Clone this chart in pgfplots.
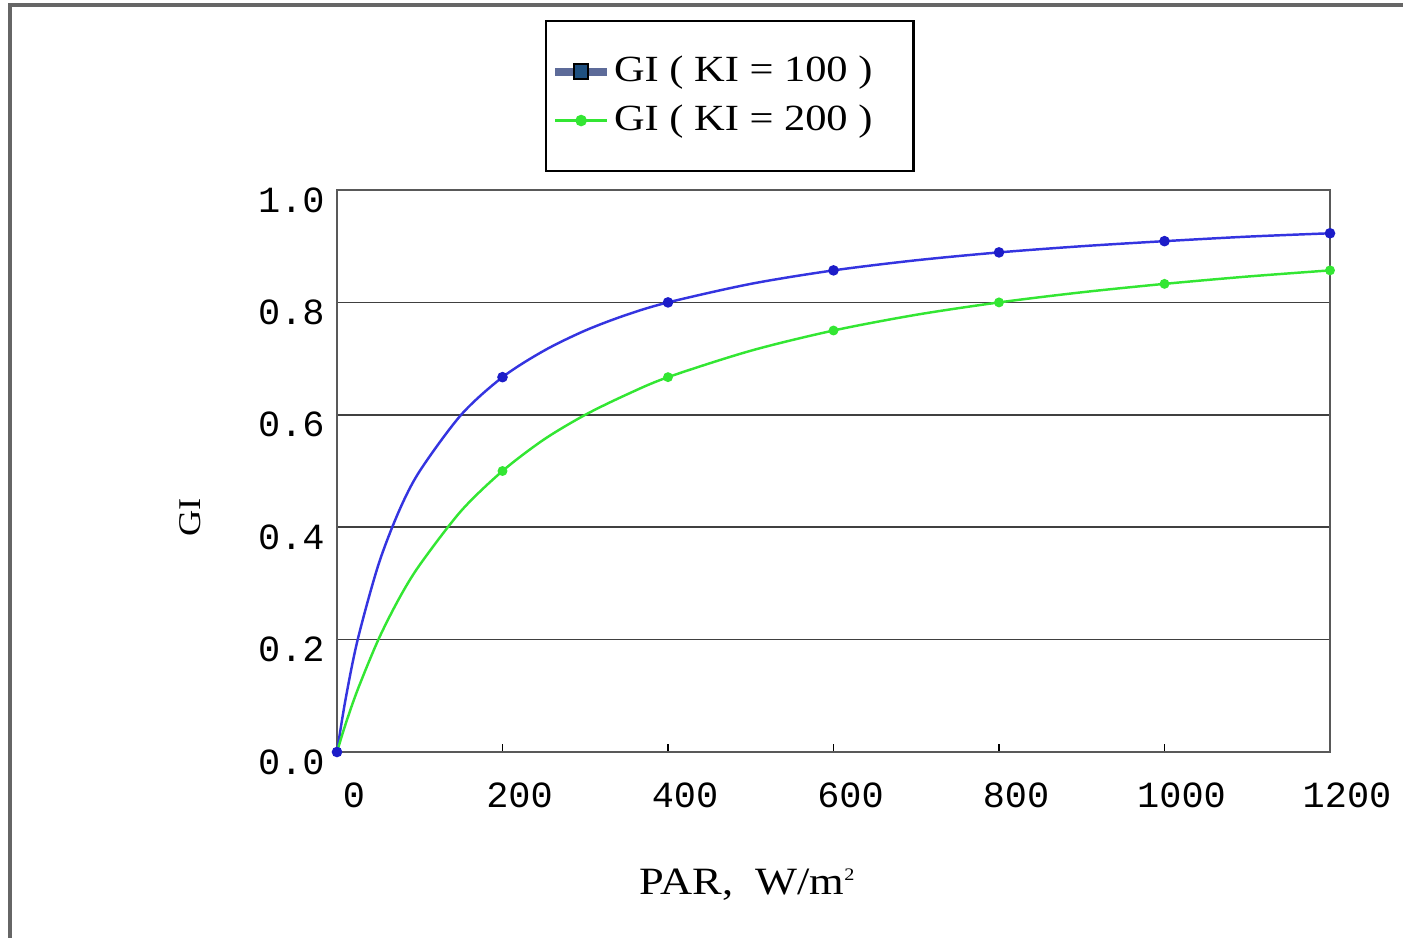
\documentclass[border=0pt]{standalone}
\usepackage{fontspec}
\setmainfont{Liberation Serif}[FakeStretch=1.15]
\setmonofont{Liberation Mono}
\usepackage{pgfplots}
\pgfplotsset{compat=1.18}
\definecolor{kiblue}{HTML}{3434E0}
\definecolor{kiblueM}{HTML}{1C1CC8}
\definecolor{kigreen}{HTML}{33E633}
\definecolor{legblue}{HTML}{5D6B99}
\definecolor{legsq}{HTML}{1F5080}

\begin{document}
\begin{tikzpicture}
\begin{axis}[
  name=ax, at={(0,0)}, anchor=south west,
  scale only axis, width=99.3mm, height=56.2mm,
  xmin=0, xmax=1200, ymin=0, ymax=1,
  xtick={0,200,400,600,800,1000,1200},
  ytick={0,0.2,0.4,0.6,0.8,1.0},
  xtick pos=bottom, ytick pos=left,
  major tick length=0.8mm,
  x tick style={black, line width=0.5pt},
  y tick style={draw=none},
  ymajorgrids=true,
  grid style={color=black!75, line width=0.45pt},
  axis line style={color=black!65, line width=0.8pt},
  ticklabel style={font=\ttfamily\fontsize{10.5}{12}\selectfont},
  /pgf/number format/assume math mode=true,
  /pgf/number format/1000 sep={},
  yticklabel style={/pgf/number format/fixed, /pgf/number format/zerofill,
    /pgf/number format/precision=1, yshift=-1mm},
  xticklabel style={xshift=1.7mm, yshift=-1.8mm},
  xlabel={PAR,\ \ W/m\textsuperscript{\tiny 2}},
  xlabel style={at={(axis description cs:0.414,0)}, anchor=center, yshift=-13.3mm,
    font=\fontsize{11}{13}\selectfont},
  ylabel={GI},
  ylabel style={at={(axis description cs:-0.148,0.418)}, anchor=center,
    font=\fontsize{9}{11}\selectfont},
  clip=false,
  legend style={at={(rel axis cs:0.2095,1.3025)}, anchor=north west,
    draw=black, line width=0.7pt, inner xsep=0.5mm, inner ysep=2.6mm,
    font=\fontsize{10.5}{12}\selectfont,
    nodes={inner xsep=0.3mm, inner ysep=0.9mm}},
  legend cell align=left,
]
\addplot[color=kiblue, line width=0.7pt, smooth,
  legend image code/.code={
    \draw[color=legblue, line width=2.2pt] (0mm,0mm) -- (5.2mm,0mm);
    \draw[fill=legsq, draw=black, line width=0.5pt] (1.9mm,-0.75mm) rectangle (3.3mm,0.75mm);
  }] coordinates {
  (0,0) (10,0.091) (25,0.200) (50,0.333) (75,0.429) (100,0.500) (150,0.600)
  (200,0.667) (250,0.714) (300,0.750) (350,0.778) (400,0.800) (500,0.833)
  (600,0.857) (700,0.875) (800,0.889) (900,0.900) (1000,0.909) (1100,0.917) (1200,0.923)};
\addlegendentry{GI ( KI = 100 )\hspace*{3.3mm}}
\addplot[color=kigreen, line width=0.7pt, smooth,
  legend image code/.code={
    \draw[color=kigreen, line width=1pt] (0mm,0mm) -- (5.2mm,0mm);
    \fill[kigreen] (2.6mm,0mm) circle (0.45mm);
  }] coordinates {
  (0,0) (10,0.048) (25,0.111) (50,0.200) (75,0.273) (100,0.333) (150,0.429)
  (200,0.500) (250,0.556) (300,0.600) (350,0.636) (400,0.667) (500,0.714)
  (600,0.750) (700,0.778) (800,0.800) (900,0.818) (1000,0.833) (1100,0.846) (1200,0.857)};
\addlegendentry{GI ( KI = 200 )\hspace*{3.3mm}}
% marks at the computed points
\addplot[only marks, mark=*, mark size=1.3pt, color=kiblueM, forget plot] coordinates {
  (0,0) (200,0.667) (400,0.800) (600,0.857) (800,0.889) (1000,0.909) (1200,0.923)};
\addplot[only marks, mark=*, mark size=1.2pt, color=kigreen, forget plot] coordinates {
  (200,0.500) (400,0.667) (600,0.750) (800,0.800) (1000,0.833) (1200,0.857)};
\end{axis}
\draw[color=black!60, line width=0.9pt] (-32.7mm,-19mm) -- (-32.7mm,74.7mm) -- (107mm,74.7mm);
\pgfresetboundingbox
\useasboundingbox (-33.7mm,-18.5mm) rectangle (106.6mm,75.2mm);
\end{tikzpicture}
\end{document}
